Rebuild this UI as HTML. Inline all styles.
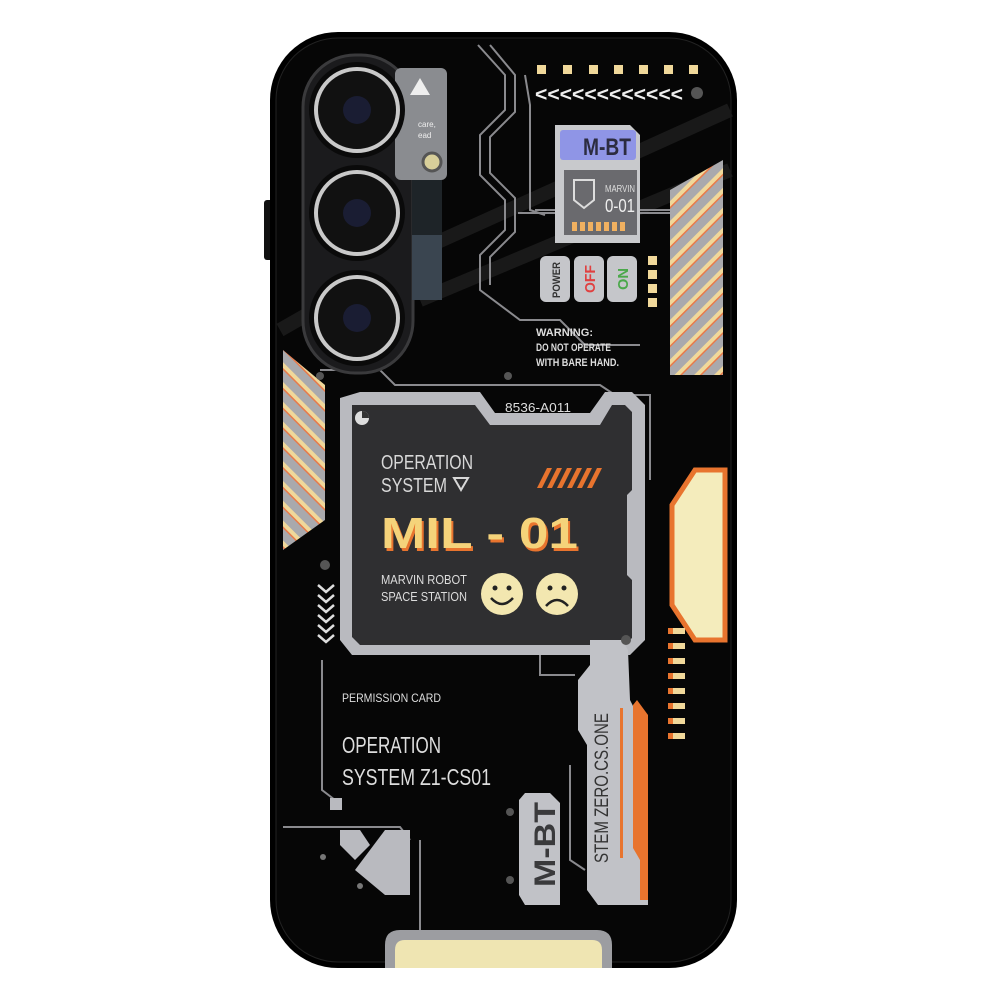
<!DOCTYPE html>
<html><head><meta charset="utf-8"><style>html,body{margin:0;padding:0;background:#fff;width:1000px;height:1000px;overflow:hidden}svg{display:block}text{font-family:"Liberation Sans Narrow","Liberation Sans",sans-serif}</style></head><body>
<svg width="1000" height="1000" viewBox="0 0 1000 1000" xmlns="http://www.w3.org/2000/svg">
<defs>
<pattern id="st" width="14" height="14" patternUnits="userSpaceOnUse" patternTransform="rotate(-45)"><rect width="14" height="14" fill="#a9a9ad"/><rect width="14" height="4" fill="#f0d89a"/><rect y="4" width="14" height="1.5" fill="#e87a4a"/></pattern>
<pattern id="st2" width="14" height="14" patternUnits="userSpaceOnUse" patternTransform="rotate(45)"><rect width="14" height="14" fill="#a9a9ad"/><rect width="14" height="4" fill="#f0d89a"/><rect y="4" width="14" height="1.5" fill="#e87a4a"/></pattern>
</defs>
<rect x="264" y="200" width="10" height="60" rx="3" fill="#111"/>
<rect x="270" y="32" width="467" height="936" rx="68" fill="#000"/>
<rect x="276" y="38" width="455" height="924" rx="62" fill="#060606" stroke="#222" stroke-width="1"/>
<g stroke="#1c1c1c" stroke-width="14" opacity="0.9"><line x1="420" y1="250" x2="730" y2="110"/><line x1="420" y1="300" x2="730" y2="170"/><line x1="280" y1="330" x2="420" y2="250"/></g>
<g fill="none" stroke="#8a8a8e" stroke-width="2">
<path d="M478 45 L505 75 L505 110 L480 135 L480 175 L505 200 L505 230 L480 255 L480 290 L520 320 L560 320 L585 345 L640 345"/>
<path d="M490 45 L515 75 L515 112 L490 137 L490 173 L515 198 L515 232 L490 257 L490 285"/>
<path d="M525 75 L530 105 L530 210 L545 215 M535 210 L670 210"/>
<path d="M518 213 L670 213"/>
<path d="M320 370 L380 370 L395 385 L600 385 L615 395 L650 395 L650 480"/>
<path d="M322 660 L322 790 L335 800"/>
<path d="M283 827 L400 827 L410 840"/>
<path d="M420 840 L420 968"/>
<path d="M540 655 L540 675 L575 675"/>
<path d="M570 765 L570 860 L585 870"/>
</g>
<rect x="303" y="55" width="110" height="318" rx="52" fill="#1b1b1d" stroke="#3a3a3c" stroke-width="3"/>
<rect x="395" y="68" width="52" height="112" rx="6" fill="#8a8c90"/>
<polygon points="410,95 420,78 430,95" fill="#eee"/>
<text x="418" y="127" font-size="8" fill="#eee">care,</text><text x="418" y="138" font-size="8" fill="#eee">ead</text>
<rect x="412" y="180" width="30" height="120" fill="#1e2428"/>
<rect x="412" y="235" width="30" height="65" fill="#3a4550"/>
<circle cx="432" cy="162" r="9" fill="#d8cf9a" stroke="#555" stroke-width="3"/>
<g>
<circle cx="357" cy="110" r="48" fill="#0a0a0a"/><circle cx="357" cy="110" r="41" fill="#111" stroke="#c9c9c9" stroke-width="4"/><circle cx="357" cy="110" r="14" fill="#1a1d33"/>
<circle cx="357" cy="213" r="48" fill="#0a0a0a"/><circle cx="357" cy="213" r="41" fill="#111" stroke="#c9c9c9" stroke-width="4"/><circle cx="357" cy="213" r="14" fill="#1a1d33"/>
<circle cx="357" cy="318" r="48" fill="#0a0a0a"/><circle cx="357" cy="318" r="41" fill="#111" stroke="#c9c9c9" stroke-width="4"/><circle cx="357" cy="318" r="14" fill="#1a1d33"/>
</g>
<g fill="#f0d89a"><rect x="537" y="65" width="9" height="9"/><rect x="563" y="65" width="9" height="9"/><rect x="589" y="65" width="9" height="9"/><rect x="614" y="65" width="9" height="9"/><rect x="639" y="65" width="9" height="9"/><rect x="664" y="65" width="9" height="9"/><rect x="689" y="65" width="9" height="9"/></g>
<text x="535" y="101" font-size="20" font-weight="bold" fill="#eee" textLength="148" lengthAdjust="spacingAndGlyphs">&lt;&lt;&lt;&lt;&lt;&lt;&lt;&lt;&lt;&lt;&lt;&lt;</text>
<circle cx="697" cy="93" r="6" fill="#555"/>
<path d="M555 125 L630 125 L640 135 L640 243 L555 243 Z" fill="#c8c9cc"/>
<rect x="560" y="130" width="76" height="30" rx="3" fill="#8f95e6"/>
<text x="583" y="155" font-size="24" font-weight="bold" fill="#2c2c40" textLength="48" lengthAdjust="spacingAndGlyphs">M-BT</text>
<rect x="564" y="170" width="73" height="65" fill="#6a6a6e"/>
<path d="M574 180 L594 180 L594 200 L584 208 L574 200 Z" fill="none" stroke="#ddd" stroke-width="2"/>
<text x="605" y="192" font-size="10" fill="#ddd" textLength="30" lengthAdjust="spacingAndGlyphs">MARVIN</text><text x="605" y="212" font-size="18" fill="#eee" textLength="30" lengthAdjust="spacingAndGlyphs">0-01</text>
<g fill="#f0b060"><rect x="572" y="222" width="5" height="9"/><rect x="580" y="222" width="5" height="9"/><rect x="588" y="222" width="5" height="9"/><rect x="596" y="222" width="5" height="9"/><rect x="604" y="222" width="5" height="9"/><rect x="612" y="222" width="5" height="9"/><rect x="620" y="222" width="5" height="9"/></g>
<rect x="540" y="256" width="30" height="46" rx="6" fill="#c5c6ca"/><rect x="574" y="256" width="30" height="46" rx="6" fill="#c5c6ca"/><rect x="607" y="256" width="30" height="46" rx="6" fill="#c5c6ca"/>
<text transform="translate(560,298) rotate(-90)" font-size="11" font-weight="bold" fill="#333" textLength="36" lengthAdjust="spacingAndGlyphs">POWER</text>
<text transform="translate(595,293) rotate(-90)" font-size="15" font-weight="bold" fill="#e04040" textLength="28" lengthAdjust="spacingAndGlyphs">OFF</text>
<text transform="translate(628,290) rotate(-90)" font-size="15" font-weight="bold" fill="#4aa84a" textLength="22" lengthAdjust="spacingAndGlyphs">ON</text>
<g fill="#f0d89a"><rect x="648" y="256" width="9" height="9"/><rect x="648" y="270" width="9" height="9"/><rect x="648" y="284" width="9" height="9"/><rect x="648" y="298" width="9" height="9"/></g>
<polygon points="670,190 723,160 723,375 670,375" fill="url(#st)"/>
<text x="536" y="336" font-size="11" font-weight="bold" fill="#ddd" textLength="57" lengthAdjust="spacingAndGlyphs">WARNING:</text>
<text x="536" y="351" font-size="11" font-weight="bold" fill="#ddd" textLength="75" lengthAdjust="spacingAndGlyphs">DO NOT OPERATE</text>
<text x="536" y="366" font-size="11" font-weight="bold" fill="#ddd" textLength="83" lengthAdjust="spacingAndGlyphs">WITH BARE HAND.</text>
<polygon points="283,350 325,385 325,520 283,550" fill="url(#st2)"/>
<circle cx="320" cy="376" r="4" fill="#555"/><circle cx="508" cy="376" r="4" fill="#555"/>
<path d="M340 398 L360 392 L480 392 L495 413 L590 413 L605 392 L632 392 L645 405 L645 640 L630 655 L352 655 L340 640 Z" fill="#b9babf"/>
<path d="M352 405 L475 405 L490 425 L600 425 L612 405 L625 405 L632 412 L632 490 L627 495 L627 575 L632 580 L632 638 L624 645 L360 645 L352 637 Z" fill="#2f2f31"/>
<text x="505" y="412" font-size="13" fill="#ddd" textLength="66" lengthAdjust="spacingAndGlyphs">8536-A011</text>
<circle cx="362" cy="418" r="7" fill="#ddd"/><path d="M362 418 L362 411 A7 7 0 0 1 369 418 Z" fill="#333"/>
<text x="381" y="469" font-size="20" fill="#d8d8d8" textLength="92" lengthAdjust="spacingAndGlyphs">OPERATION</text>
<text x="381" y="492" font-size="20" fill="#d8d8d8" textLength="66" lengthAdjust="spacingAndGlyphs">SYSTEM</text>
<polygon points="454,478 468,478 461,490" fill="none" stroke="#d8d8d8" stroke-width="2"/>
<g fill="#e8742e"><polygon points="537,488 547,468 552,468 542,488"/><polygon points="547,488 557,468 562,468 552,488"/><polygon points="557,488 567,468 572,468 562,488"/><polygon points="567,488 577,468 582,468 572,488"/><polygon points="577,488 587,468 592,468 582,488"/><polygon points="587,488 597,468 602,468 592,488"/></g>
<text x="383" y="551" font-size="44" font-weight="bold" fill="#e8742e" textLength="197" lengthAdjust="spacingAndGlyphs">MIL - 01</text>
<text x="381" y="548" font-size="44" font-weight="bold" fill="#f5d37a" textLength="197" lengthAdjust="spacingAndGlyphs">MIL - 01</text>
<text x="381" y="584" font-size="13" fill="#ddd" textLength="86" lengthAdjust="spacingAndGlyphs">MARVIN ROBOT</text><text x="381" y="601" font-size="13" fill="#ddd" textLength="86" lengthAdjust="spacingAndGlyphs">SPACE STATION</text>
<circle cx="502" cy="594" r="21" fill="#f3e7b0"/><circle cx="495" cy="588" r="2.5" fill="#222"/><circle cx="509" cy="588" r="2.5" fill="#222"/><path d="M491 598 Q502 610 513 598" fill="none" stroke="#222" stroke-width="2.5"/>
<circle cx="557" cy="594" r="21" fill="#f3e7b0"/><circle cx="550" cy="588" r="2.5" fill="#222"/><circle cx="564" cy="588" r="2.5" fill="#222"/><path d="M546 606 Q557 594 568 606" fill="none" stroke="#222" stroke-width="2.5"/>
<polygon points="695,470 725,470 725,640 695,640 672,605 672,505" fill="#f4ecbc" stroke="#e8742e" stroke-width="5"/>
<g fill="#f0d89a"><rect x="668" y="628" width="17" height="6"/><rect x="668" y="643" width="17" height="6"/><rect x="668" y="658" width="17" height="6"/><rect x="668" y="673" width="17" height="6"/><rect x="668" y="688" width="17" height="6"/><rect x="668" y="703" width="17" height="6"/><rect x="668" y="718" width="17" height="6"/><rect x="668" y="733" width="17" height="6"/></g>
<g fill="#e8742e"><rect x="668" y="628" width="5" height="6"/><rect x="668" y="643" width="5" height="6"/><rect x="668" y="658" width="5" height="6"/><rect x="668" y="673" width="5" height="6"/><rect x="668" y="688" width="5" height="6"/><rect x="668" y="703" width="5" height="6"/><rect x="668" y="718" width="5" height="6"/><rect x="668" y="733" width="5" height="6"/></g>
<circle cx="325" cy="565" r="5" fill="#555"/>
<g fill="none" stroke="#ddd" stroke-width="2.5"><path d="M318 585 L326 592 L334 585"/><path d="M318 595 L326 602 L334 595"/><path d="M318 605 L326 612 L334 605"/><path d="M318 615 L326 622 L334 615"/><path d="M318 625 L326 632 L334 625"/><path d="M318 635 L326 642 L334 635"/></g>
<text x="342" y="702" font-size="12" fill="#ddd" textLength="99" lengthAdjust="spacingAndGlyphs">PERMISSION CARD</text>
<text x="342" y="753" font-size="23" fill="#ddd" textLength="99" lengthAdjust="spacingAndGlyphs">OPERATION</text>
<text x="342" y="785" font-size="23" fill="#ddd" textLength="149" lengthAdjust="spacingAndGlyphs">SYSTEM Z1-CS01</text>
<rect x="330" y="798" width="12" height="12" fill="#b9babf"/>
<polygon points="340,830 360,830 370,845 355,860 340,845" fill="#b9babf"/>
<polygon points="385,830 410,830 410,895 385,895 355,870" fill="#b9babf"/>
<circle cx="323" cy="857" r="3" fill="#777"/><circle cx="360" cy="886" r="3" fill="#777"/>
<path d="M590 640 L622 640 L628 650 L630 700 L640 720 L648 720 L648 905 L598 905 L587 890 L587 745 L578 730 L578 680 L590 665 Z" fill="#c1c2c7"/>
<path d="M637 700 L648 715 L648 900 L640 900 L640 860 L633 848 L633 705 Z" fill="#e8742e"/>
<rect x="620" y="708" width="3" height="150" fill="#e8742e"/>
<circle cx="626" cy="640" r="5" fill="#555"/>
<text transform="translate(608,863) rotate(-90)" font-size="19" fill="#333" textLength="150" lengthAdjust="spacingAndGlyphs">STEM ZERO.CS.ONE</text>
<path d="M525 793 L550 793 L560 803 L560 905 L525 905 L519 895 L519 800 Z" fill="#c1c2c7"/>
<text transform="translate(555,887) rotate(-90)" font-size="30" font-weight="bold" fill="#3a3a3c" textLength="85" lengthAdjust="spacingAndGlyphs">M-BT</text>
<circle cx="510" cy="812" r="4" fill="#555"/><circle cx="510" cy="880" r="4" fill="#555"/>
<path d="M385 968 L385 945 Q385 930 400 930 L597 930 Q612 930 612 945 L612 968 Z" fill="#9c9da1"/>
<path d="M395 968 L395 950 Q395 940 405 940 L592 940 Q602 940 602 950 L602 968 Z" fill="#efe5b2"/>
</svg>
</body></html>
